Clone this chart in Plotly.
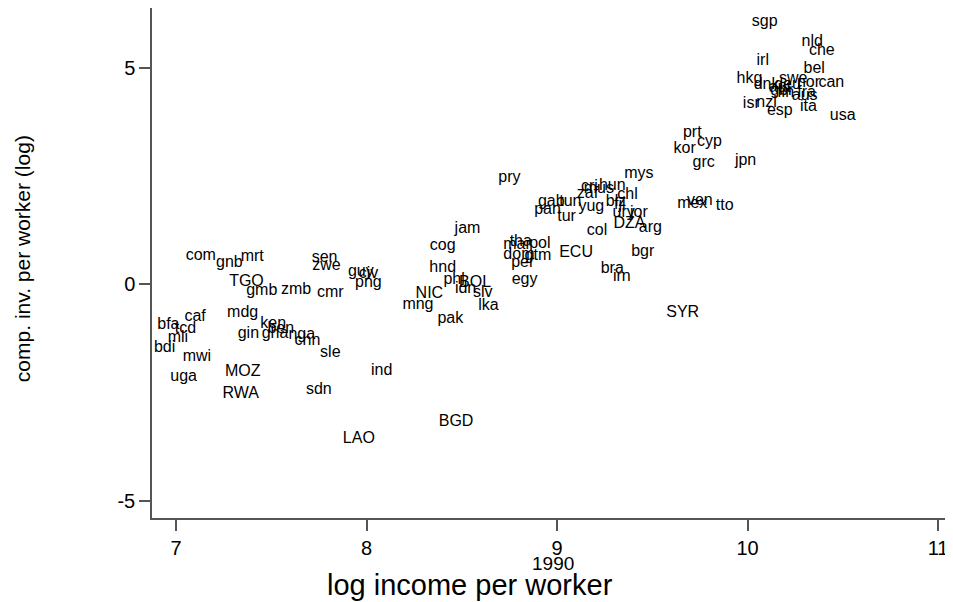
import plotly.graph_objects as go

countries = ["com","gnb","mrt","sen","zwe","guy","civ","TGO","gmb","zmb","cmr","png",
             "caf","mdg","bfa","tcd","ken","ben","gin","gha","nga","chn","mli","bdi","mwi","sle",
             "uga","MOZ","RWA","sdn","ind","LAO","BGD",
             "jam","cog","hnd","phl","BOL","idn","slv","NIC","mng","lka","pak",
             "tha","mar","pol","dom","gtm","per","ECU","egy","col","DZA","arg","bgr","bra","irn",
             "pry","mys","cri","mus","hun","zaf","gab","tun","pan","yug","tur","blz","chl","fji","ury","jor",
             "ven","mex","tto","grc","jpn","prt","cyp","kor","SYR",
             "sgp","nld","che","irl","bel","hkg","swe","can","nor","dnk","aut","deu","fin","fra","aus","gbr",
             "isr","nzl","esp","ita","usa"]

log_income = [7.13,7.28,7.40,7.78,7.79,7.97,8.01,7.37,7.45,7.63,7.81,8.01,
              7.10,7.35,6.96,7.05,7.51,7.55,7.38,7.52,7.66,7.69,7.01,6.94,7.11,7.81,
              7.04,7.35,7.34,7.75,8.08,7.96,8.47,
              8.53,8.40,8.40,8.46,8.57,8.52,8.61,8.33,8.27,8.64,8.44,
              8.81,8.79,8.91,8.80,8.90,8.82,9.10,8.83,9.21,9.38,9.49,9.45,9.29,9.34,
              8.75,9.43,9.17,9.22,9.29,9.16,8.97,9.07,8.95,9.18,9.05,9.31,9.37,9.33,9.35,9.43,
              9.75,9.71,9.88,9.77,9.99,9.71,9.80,9.67,9.66,
              10.09,10.34,10.39,10.08,10.35,10.01,10.24,10.44,10.32,10.10,10.17,10.21,10.20,10.31,10.30,10.18,
              10.02,10.10,10.17,10.32,10.50]

comp_inv = [0.65,0.49,0.62,0.60,0.42,0.28,0.23,0.05,-0.16,-0.14,-0.21,0.02,
            -0.76,-0.67,-0.95,-1.04,-0.92,-1.04,-1.15,-1.15,-1.18,-1.32,-1.25,-1.48,-1.69,-1.59,
            -2.15,-2.03,-2.54,-2.45,-2.01,-3.58,-3.19,
            1.27,0.88,0.37,0.09,0.02,-0.12,-0.21,-0.23,-0.48,-0.51,-0.81,
            0.97,0.90,0.92,0.67,0.65,0.48,0.72,0.09,1.22,1.39,1.29,0.74,0.35,0.16,
            2.45,2.54,2.24,2.19,2.26,2.08,1.89,1.89,1.71,1.78,1.55,1.89,2.06,1.82,1.64,1.64,
            1.92,1.85,1.80,2.79,2.84,3.49,3.28,3.12,-0.67,
            6.05,5.59,5.38,5.15,4.97,4.73,4.73,4.64,4.64,4.60,4.53,4.60,4.41,4.41,4.34,4.46,
            4.16,4.18,4.00,4.09,3.88]

x_ticks = [7, 8, 9, 10, 11]
y_ticks = [-5, 0, 5]

FONT = "Liberation Sans, Arial, Helvetica, sans-serif"
AXIS_COLOR = "#555555"

fig = go.Figure()
fig.add_trace(go.Scatter(
    x=log_income, y=comp_inv, text=countries, mode="text",
    textposition="middle center",
    textfont=dict(family=FONT, size=16, color="black"),
    hoverinfo="text", showlegend=False,
))

fig.update_layout(
    width=945, height=594,
    margin=dict(l=144, r=3, t=0, b=84, autoexpand=False),
    paper_bgcolor="white", plot_bgcolor="white",
    font=dict(family=FONT, color="black"),
    xaxis=dict(range=[6.874, 11.063], tickvals=x_ticks, ticktext=[str(v) for v in x_ticks],
               showgrid=False, zeroline=False, showline=True, linecolor=AXIS_COLOR, linewidth=1.5,
               ticks="outside", ticklen=11, tickcolor=AXIS_COLOR, tickwidth=1.5, automargin=False,
               tickfont=dict(size=20, family=FONT, color="black")),
    yaxis=dict(range=[-5.404, 6.374], tickvals=y_ticks, ticktext=[str(v) for v in y_ticks],
               showgrid=False, zeroline=False, showline=True, linecolor=AXIS_COLOR, linewidth=1.5,
               ticks="outside", ticklen=11, tickcolor=AXIS_COLOR, tickwidth=1.5, automargin=False,
               tickfont=dict(size=20, family=FONT, color="black")),
    annotations=[
        dict(text="1990", xref="paper", yref="paper", x=0.5025, y=-0.09,
             xanchor="center", yanchor="middle", showarrow=False,
             font=dict(size=19, family=FONT, color="black")),
        dict(text="log income per worker", xref="paper", yref="paper", x=0.3985, y=-0.131,
             xanchor="center", yanchor="middle", showarrow=False,
             font=dict(size=29, family=FONT, color="black")),
        dict(text="comp. inv. per worker (log)", xref="paper", yref="paper", x=-0.162, y=0.509,
             xanchor="center", yanchor="middle", textangle=-90, showarrow=False,
             font=dict(size=21, family=FONT, color="black")),
    ],
)

fig.write_html("out.html")
